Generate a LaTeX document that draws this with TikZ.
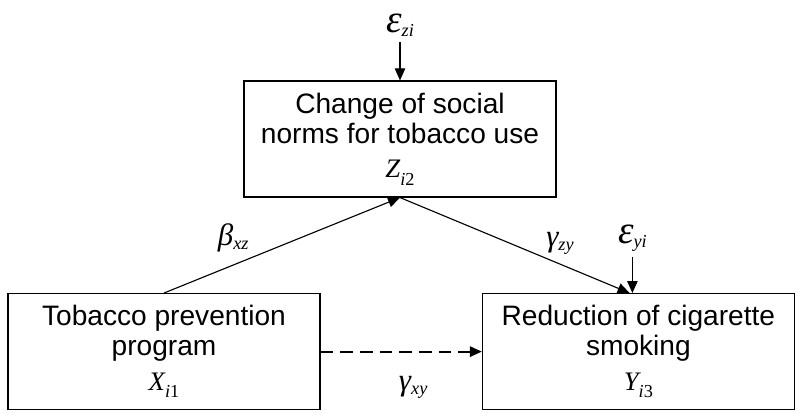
\documentclass[tikz,border=0pt]{standalone}
\usepackage{fontspec}
\setmainfont{Liberation Sans}
\newfontfamily\symfont{Liberation Serif}
\usetikzlibrary{arrows.meta,positioning}
\newcommand{\var}[3][17]{{\symfont\itshape\fontsize{#1}{#1}\selectfont #2}\raisebox{-0.5ex}{\symfont\itshape\fontsize{13}{13}\selectfont #3}}
\tikzset{
	box/.style = {draw, line width=0.8pt, minimum width=7.8cm, minimum height=2.9cm,
		align=center, inner sep=0, font=\fontsize{20}{21.5}\selectfont},
	link/.style = {line width=0.8pt, -{Triangle[length=0.3cm, width=0.26cm]}},
	maybe link/.style = {link, dashed, dash pattern=on 9pt off 5pt, line width=1.3pt},
	noise/.style = {inner sep=4pt},
	effect/.style = {inner sep=1pt},
}

\begin{document}
\begin{tikzpicture}
\useasboundingbox (0,0) rectangle (20,-10.425);
% the three constructs
\node[box] (zb) at (10,-3.475) {Change of social\\norms for tobacco use\\[3pt]\var[19]{Z}{i\upshape 2}};
\node[box] (xb) at (4.1,-8.79) {Tobacco prevention\\program\\[3pt]\var[19]{X}{i\upshape 1}};
\node[box] (yb) at (15.96,-8.79) {Reduction of cigarette\\smoking\\[3pt]\var[19]{Y}{i\upshape 3}};
% error terms
\node[noise, above=0.95cm of zb] (ezi) {\var[28]{ε}{zi}};
\node[noise, above=0.9cm of yb, xshift=-0.15cm] (eyi) {\var[28]{ε}{yi}};
\draw[link] (ezi.south) -- (zb.north);
\draw[link] (eyi.south) -- (eyi.south |- yb.north);
% paths
\draw[link] (xb.north) -- (zb.south);
\draw[link] (zb.south) -- ([xshift=-0.22cm]yb.north);
\draw[maybe link] (xb.east) -- (yb.west);
\node[effect] (bxz) at (5.83,-5.95) {\var[22]{β}{xz}};
\node[effect] (gzy) at (14.0,-6.08) {\var[22]{γ}{zy}};
\node[effect] (gxy) at (10.33,-9.68) {\var[22]{γ}{xy}};
\end{tikzpicture}
\end{document}
